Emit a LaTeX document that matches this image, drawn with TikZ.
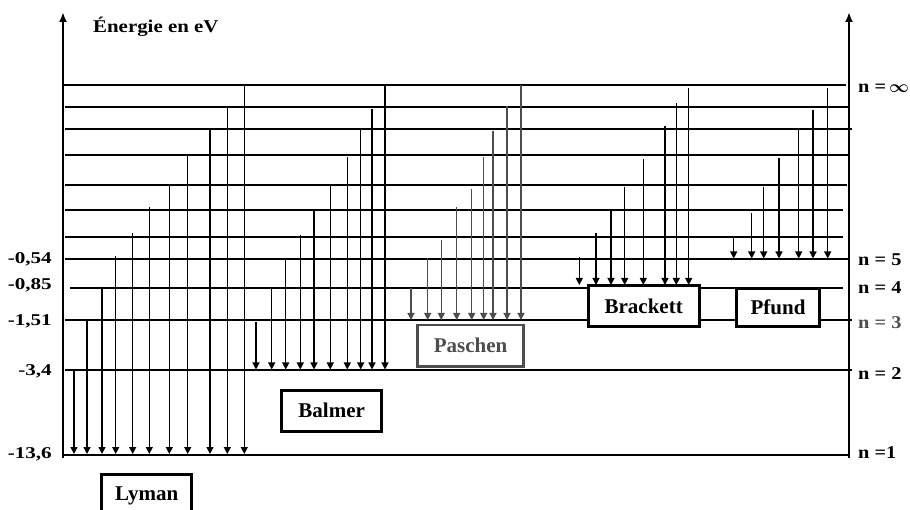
\documentclass[tikz,border=0pt]{standalone}
\usepackage{fontspec}
\setmainfont{Liberation Serif}
\usetikzlibrary{arrows.meta}
\definecolor{pgray}{HTML}{4D4D4D}
\begin{document}
\begin{tikzpicture}[x=1pt,y=-1pt,
  lvl/.style={line width=1.1pt},
  heavy/.style={line width=2.2pt},
  axisline/.style={line width=2.5pt,-{Latex[length=10pt,width=8pt]}},
  trans/.style={line width=1.3pt,-{Triangle[length=7pt,width=7pt]}},
  seriesbox/.style={draw,line width=3pt,fill=white,inner sep=0pt,
    font=\fontsize{21}{25}\selectfont\bfseries},
  leftval/.style={anchor=base east,inner sep=0pt,font=\fontsize{16.5}{19}\selectfont\bfseries},
  rightval/.style={anchor=base west,inner sep=0pt,font=\fontsize{18}{21}\selectfont\bfseries}
]
\useasboundingbox (0,0) rectangle (910,510);
\clip (0,0) rectangle (910,510);

% energy levels
\foreach \y/\xa/\xb in {107/65/849, 129/65/852, 155/65/849, 185/65/847,
    210/65/843, 237/65/843, 259/65/849, 288/70/843, 320/65/852, 370/65/852}
  \draw[lvl] (\xa,\y) -- (\xb,\y);
\draw[heavy] (63,85) -- (846,85);
\draw[heavy] (63,455) -- (849,455);

% axes
\draw[axisline] (63,458) -- (63,12);
\draw[axisline] (849,458) -- (849,12);

% Lyman series (to n = 1)
\foreach \x/\t in {74/370, 87/320, 102/287, 115.7/256, 132.7/233, 149.3/207,
    169.3/184, 187.7/155, 210/128, 227.3/107, 244.3/85}
  \draw[trans] (\x,\t) -- (\x,454);

% Balmer series (to n = 2)
\foreach \x/\t in {256/322, 271.7/289, 285.7/258, 300.3/235, 314/210, 330.3/184,
    347.3/157, 360.7/128, 372/109, 385/85}
  \draw[trans] (\x,\t) -- (\x,369.5);

% Paschen series (to n = 3)
\foreach \x/\t in {411/288, 427.7/258, 441.3/240, 456.7/207, 471.7/189,
    483.7/157, 493/131, 507/106, 521/85}
  \draw[trans,draw=pgray,fill=pgray] (\x,\t) -- (\x,320);

% Brackett series (to n = 4)
\foreach \x/\t in {579.3/257, 596/233, 611/210, 624.7/187, 643.3/159,
    665/126, 676.3/103, 688.7/88}
  \draw[trans] (\x,\t) -- (\x,285);

% Pfund series (to n = 5)
\foreach \x/\t in {733.7/238, 751.7/213, 763.7/187, 779/158, 798.7/129,
    813/110, 827.7/88}
  \draw[trans] (\x,\t) -- (\x,258.5);

% series names
\node[seriesbox,minimum width=90pt,minimum height=60pt,anchor=north] (lyman) at (146.7,473.3) {};
\node[anchor=base,inner sep=0pt,font=\fontsize{21}{25}\selectfont\bfseries] (lymantxt) at (146.7,500.7) {Lyman};
\node[seriesbox,minimum width=100pt,minimum height=41pt] (balmer) at (331.7,410.5) {Balmer};
\node[seriesbox,draw=pgray,line width=2.6pt,text=pgray,minimum width=105.6pt,minimum height=41.7pt] (paschen) at (470.5,345.8) {Paschen};
\node[seriesbox,minimum width=110.7pt,minimum height=41pt] (brackett) at (643.7,306.2) {Brackett};
\node[seriesbox,minimum width=82.6pt,minimum height=38.4pt] (pfund) at (778,307.5) {Pfund};

% axis title
\node[anchor=base west,inner sep=0pt,font=\fontsize{18}{21}\selectfont\bfseries] (title) at (93,33) {\scalebox{1.16}[1]{Énergie en eV}};

% energy values
\node[leftval] (e5) at (52,264) {\scalebox{1.28}[1]{-0,54}};
\node[leftval] (e4) at (52,290) {\scalebox{1.28}[1]{-0,85}};
\node[leftval] (e3) at (52,326) {\scalebox{1.28}[1]{-1,51}};
\node[leftval] (e2) at (52,376) {\scalebox{1.28}[1]{-3,4}};
\node[leftval] (e1) at (52,458) {\scalebox{1.28}[1]{-13,6}};

% quantum numbers
\node[rightval] (ninf) at (858,93) {\scalebox{1.13}[1]{n =}\,{\fontsize{16}{20}\selectfont\boldmath$\infty$}};
\node[rightval] (n5) at (858,266) {\scalebox{1.13}[1]{n = 5}};
\node[rightval] (n4) at (858,294) {\scalebox{1.13}[1]{n = 4}};
\node[rightval,text=pgray] (n3) at (858,329) {\scalebox{1.13}[1]{n = 3}};
\node[rightval] (n2) at (858,380) {\scalebox{1.13}[1]{n = 2}};
\node[rightval] (n1) at (858,458) {\scalebox{1.13}[1]{n =1}};
\end{tikzpicture}
\end{document}
